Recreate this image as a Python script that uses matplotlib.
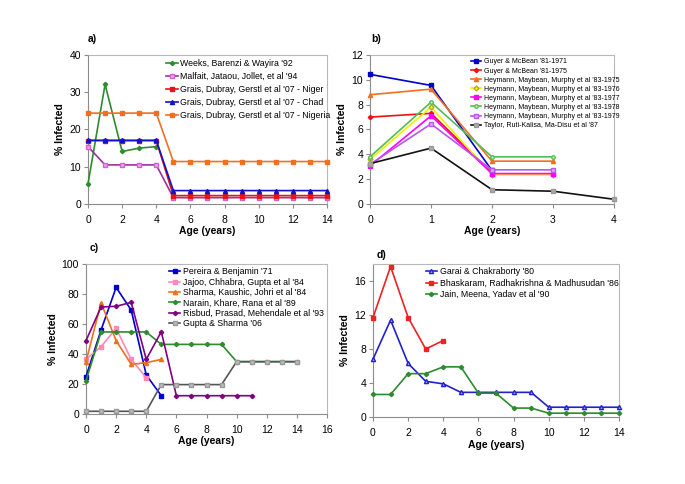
import matplotlib
matplotlib.use("Agg")
import matplotlib.pyplot as plt
import numpy as np

plt.rcParams['font.family'] = ['Liberation Sans', 'DejaVu Sans']

# ---------------- Panel a data ----------------
a_weeks_x = [0, 1, 2, 3, 4]
a_weeks_y = [5.4, 32.1, 14.1, 15.0, 15.4]
a_malfait_x = list(range(0, 15))
a_malfait_y = [15.4, 10.5, 10.5, 10.5, 10.5] + [1.7] * 10
a_niger_x = list(range(0, 15))
a_niger_y = [17.0] * 5 + [2.25] * 10
a_chad_x = list(range(0, 15))
a_chad_y = [17.1] * 5 + [3.6] * 10
a_nigeria_x = list(range(0, 15))
a_nigeria_y = [24.4] * 5 + [11.4] * 10
a_labels = ["Weeks, Barenzi & Wayira '92",
            "Malfait, Jataou, Jollet, et al '94",
            "Grais, Dubray, Gerstl et al '07 - Niger",
            "Grais, Dubray, Gerstl et al '07 - Chad",
            "Grais, Dubray, Gerstl et al '07 - Nigeria"]

# ---------------- Panel b data ----------------
b_g71_x = [0, 1, 2]
b_g71_y = [10.44, 9.55, 2.7]
b_g75_x = [0, 1, 2]
b_g75_y = [7.0, 7.3, 2.5]
b_h75_x = [0, 1, 2, 3]
b_h75_y = [8.8, 9.25, 3.45, 3.45]
b_h76_x = [0, 1, 2, 3]
b_h76_y = [3.6, 7.8, 2.35, 2.35]
b_h77_x = [0, 1, 2, 3]
b_h77_y = [3.07, 7.1, 2.45, 2.45]
b_h78_x = [0, 1, 2, 3]
b_h78_y = [3.8, 8.2, 3.8, 3.8]
b_h79_x = [0, 1, 2, 3]
b_h79_y = [3.2, 6.45, 2.75, 2.75]
b_tay_x = [0, 1, 2, 3, 4]
b_tay_y = [3.25, 4.5, 1.15, 1.03, 0.38]
b_labels = ["Guyer & McBean '81-1971",
            "Guyer & McBean '81-1975",
            "Heymann, Maybean, Murphy et al '83-1975",
            "Heymann, Maybean, Murphy et al '83-1976",
            "Heymann, Maybean, Murphy et al '83-1977",
            "Heymann, Maybean, Murphy et al '83-1978",
            "Heymann, Maybean, Murphy et al '83-1979",
            "Taylor, Ruti-Kalisa, Ma-Disu et al '87"]

# ---------------- Panel c data ----------------
c_per_x = [0, 1, 2, 3, 4, 5]
c_per_y = [24.9, 56.0, 84.4, 69.3, 26.0, 12.2]
c_jaj_x = [0, 1, 2, 3, 4]
c_jaj_y = [36.4, 44.9, 57.1, 36.4, 24.2]
c_sha_x = [0, 1, 2, 3, 4, 5]
c_sha_y = [34.9, 74.2, 48.9, 33.1, 34.2, 36.4]
c_nar_x = list(range(0, 15))
c_nar_y = [22.2, 54.7, 54.7, 54.7, 54.7, 46.4, 46.4, 46.4, 46.4, 46.4,
           34.9, 34.9, 34.9, 34.9, 34.9]
c_ris_x = list(range(0, 12))
c_ris_y = [48.9, 71.3, 71.8, 74.4, 36.4, 54.9, 12.2, 12.2, 12.2, 12.2, 12.2, 12.2]
c_gup_x = list(range(0, 15))
c_gup_y = [1.8] * 5 + [19.6] * 5 + [34.9] * 5
c_labels = ["Pereira & Benjamin '71",
            "Jajoo, Chhabra, Gupta et al '84",
            "Sharma, Kaushic, Johri et al '84",
            "Narain, Khare, Rana et al '89",
            "Risbud, Prasad, Mehendale et al '93",
            "Gupta & Sharma '06"]

# ---------------- Panel d data ----------------
d_gar_x = list(range(0, 15))
d_gar_y = [6.8, 11.4, 6.3, 4.2, 3.9, 2.9, 2.9, 2.9, 2.9, 2.9,
           1.15, 1.15, 1.15, 1.15, 1.15]
d_bha_x = [0, 1, 2, 3, 4]
d_bha_y = [11.7, 17.7, 11.7, 8.0, 9.0]
d_jai_x = list(range(0, 15))
d_jai_y = [2.65, 2.65, 5.1, 5.1, 5.9, 5.9, 2.8, 2.8, 1.05, 1.05,
           0.45, 0.45, 0.45, 0.45, 0.45]
d_labels = ["Garai & Chakraborty '80",
            "Bhaskaram, Radhakrishna & Madhusudan '86",
            "Jain, Meena, Yadav et al '90"]

W, H = 685, 484
fig = plt.figure(figsize=(W / 100, H / 100), dpi=100)


def mkax(l, r, t, b):
    return fig.add_axes([l / W, 1 - b / H, (r - l) / W, (b - t) / H])


def style(ax, xlim, ylim, xticks, yticks, label, lx, ly):
    ax.set_xlim(*xlim)
    ax.set_ylim(*ylim)
    ax.set_xticks(xticks)
    ax.set_yticks(yticks)
    for s in ['top', 'right']:
        ax.spines[s].set_color('#b8b8b8')
        ax.spines[s].set_linewidth(0.8)
    for s in ['left', 'bottom']:
        ax.spines[s].set_color('#8c8c8c')
        ax.spines[s].set_linewidth(0.8)
    ax.tick_params(direction='out', length=3, width=0.8, color='#8c8c8c',
                   labelsize=7.5)
    ax.tick_params(axis='y', pad=2)
    ax.tick_params(axis='x', pad=5)
    ax.set_ylabel('% Infected', fontsize=7.5, fontweight='bold', labelpad=3)
    ax.set_xlabel('Age (years)', fontsize=7.5, fontweight='bold', labelpad=1)
    fig.text(lx / W, 1 - ly / H, label, fontsize=7.5,
             fontweight='bold', ha='left', va='center')
    for sp in ax.spines.values():
        sp.set_zorder(0)


lw = 1.2
ms = 3
kw = dict(clip_on=False)

# ---- a ----
ax = mkax(88, 327, 55, 204)
ax.plot(a_weeks_x, a_weeks_y, color='#2e8b2e', marker='D', ms=2.2, lw=lw, label=a_labels[0], **kw)
ax.plot(a_malfait_x, a_malfait_y, color='#993399', marker='s', ms=ms, mfc='#ff99ff', mec='#cc66cc', lw=lw, label=a_labels[1], **kw)
ax.plot(a_niger_x, a_niger_y, color='#ee1111', marker='s', ms=2.5, lw=lw, label=a_labels[2], **kw)
ax.plot(a_chad_x, a_chad_y, color='#1111cc', marker='^', ms=ms, lw=lw, label=a_labels[3], **kw)
ax.plot(a_nigeria_x, a_nigeria_y, color='#f07020', marker='s', ms=ms, lw=lw, label=a_labels[4], **kw)
style(ax, (0, 14), (0, 40), range(0, 15, 2), range(0, 41, 10), 'a)', 88, 39)
ax.legend(loc='upper left', bbox_to_anchor=(0.31, 1.0), frameon=False,
          fontsize=6.3, handlelength=1.3, handletextpad=0.3, labelspacing=0.45,
          borderaxespad=0.3, borderpad=0.2)

# ---- b ----
ax = mkax(370, 614, 55, 204)
ax.plot(b_g71_x, b_g71_y, color='#0000cc', marker='s', ms=ms, lw=lw, label=b_labels[0], **kw)
ax.plot(b_g75_x, b_g75_y, color='#ee1111', marker='D', ms=2.2, lw=lw, label=b_labels[1], **kw)
ax.plot(b_h75_x, b_h75_y, color='#f07020', marker='^', ms=ms, lw=lw, label=b_labels[2], **kw)
ax.plot(b_h76_x, b_h76_y, color='#f0f000', marker='D', ms=2.5, mfc='none', mec='#b0b000', lw=lw, label=b_labels[3], **kw)
ax.plot(b_h77_x, b_h77_y, color='#ff00ff', marker='s', ms=ms, lw=lw, label=b_labels[4], **kw)
ax.plot(b_h78_x, b_h78_y, color='#55bb55', marker='o', ms=2.5, mfc='#ccffcc', lw=lw, label=b_labels[5], **kw)
ax.plot(b_h79_x, b_h79_y, color='#bb55ee', marker='s', ms=ms, mfc='#ddaaff', lw=lw, label=b_labels[6], **kw)
ax.plot(b_tay_x, b_tay_y, color='#111111', marker='s', ms=2.5, mfc='#aaaaaa', mec='#999999', lw=lw, label=b_labels[7], **kw)
style(ax, (0, 4), (0, 12), range(0, 5), range(0, 13, 2), 'b)', 371, 39)
ax.legend(loc='upper left', bbox_to_anchor=(0.4, 1.0), frameon=False,
          fontsize=5.0, handlelength=1.5, handletextpad=0.3, labelspacing=0.3,
          borderaxespad=0.3, borderpad=0.2)

# ---- c ----
ax = mkax(86, 327, 264, 414)
ax.plot(c_per_x, c_per_y, color='#0000cc', marker='s', ms=ms, lw=lw, label=c_labels[0], **kw)
ax.plot(c_jaj_x, c_jaj_y, color='#ff88bb', marker='s', ms=ms, lw=lw, label=c_labels[1], **kw)
ax.plot(c_sha_x, c_sha_y, color='#f07020', marker='^', ms=ms, lw=lw, label=c_labels[2], **kw)
ax.plot(c_nar_x, c_nar_y, color='#2e8b2e', marker='D', ms=2.2, lw=lw, label=c_labels[3], **kw)
ax.plot(c_ris_x, c_ris_y, color='#800080', marker='D', ms=2.2, lw=lw, label=c_labels[4], **kw)
ax.plot(c_gup_x, c_gup_y, color='#555555', marker='s', ms=ms, mfc='#bbbbbb', mec='#999999', lw=lw, label=c_labels[5], **kw)
style(ax, (0, 16), (0, 100), range(0, 17, 2), range(0, 101, 20), 'c)', 90, 248)
ax.legend(loc='upper left', bbox_to_anchor=(0.33, 1.0), frameon=False,
          fontsize=6.3, handlelength=1.3, handletextpad=0.3, labelspacing=0.15,
          borderaxespad=0.2, borderpad=0.2)

# ---- d ----
ax = mkax(373, 619, 264, 417)
ax.plot(d_gar_x, d_gar_y, color='#2222cc', marker='^', ms=ms, mfc='#aaaaff', lw=lw, label=d_labels[0], **kw)
ax.plot(d_bha_x, d_bha_y, color='#ee2222', marker='s', ms=ms, lw=lw, label=d_labels[1], **kw)
ax.plot(d_jai_x, d_jai_y, color='#2e8b2e', marker='D', ms=2.2, lw=lw, label=d_labels[2], **kw)
style(ax, (0, 14), (0, 18), range(0, 15, 2), range(0, 17, 4), 'd)', 377, 255)
ax.legend(loc='upper left', bbox_to_anchor=(0.2, 1.0), frameon=False,
          fontsize=6.3, handlelength=1.3, handletextpad=0.3, labelspacing=0.25,
          borderaxespad=0.2, borderpad=0.2)

fig.savefig('out.png', dpi=100)
